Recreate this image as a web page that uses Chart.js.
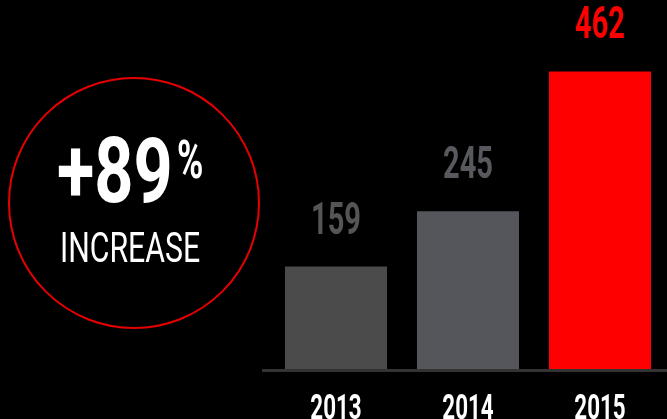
<!DOCTYPE html>
<html>
<head>
<meta charset="utf-8">
<script src="https://cdn.jsdelivr.net/npm/chart.js@4/dist/chart.umd.min.js"></script>
<style>
	html, body { margin: 0; padding: 0; background: #000; }
	#wrap { width: 667px; height: 419px; position: relative; }
</style>
</head>
<body>
<div id="wrap"><canvas id="chart"></canvas></div>
<script>
var years = ['2013', '2014', '2015'];
var members = [159, 245, 462];
var barColors = ['#4b4b4b', '#55565b', '#ff0000'];
var labelColors = ['#555555', '#58595e', '#ff0000'];
var growth = '+89';
var growthText = 'INCREASE';

// draw condensed text by squeezing the canvas horizontally
function narrowText(ctx, text, x, y, font, color, sx, align) {
	ctx.save();
	ctx.font = font;
	ctx.fillStyle = color;
	ctx.textBaseline = 'alphabetic';
	var w = ctx.measureText(text).width * sx;
	var left = x;
	if(align === 'center') left = x - w / 2;
	ctx.translate(left, y);
	ctx.scale(sx, 1);
	ctx.textAlign = 'left';
	ctx.fillText(text, 0, 0);
	ctx.restore();
}

var extras = {
	id: 'extras',
	afterDatasetsDraw: function(chart) {
		var ctx = chart.ctx;
		var xs = chart.scales.x;
		var meta = chart.getDatasetMeta(0);

		// baseline rule
		ctx.save();
		ctx.fillStyle = '#333333';
		ctx.fillRect(262, chart.chartArea.bottom, 405, 3);
		ctx.restore();

		for(var i=0; i<years.length; i++) {
			var bar = meta.data[i];
			narrowText(ctx, String(members[i]), bar.x, bar.y - 33,
				'bold 44px Roboto', labelColors[i], 0.66, 'center');
			narrowText(ctx, years[i], xs.getPixelForValue(i), 419,
				'bold 35px Roboto', '#ffffff', 0.64, 'center');
		}

		// growth badge
		ctx.save();
		ctx.strokeStyle = '#e60000';
		ctx.lineWidth = 2;
		ctx.beginPath();
		ctx.arc(134, 203, 125, 0, Math.PI * 2);
		ctx.stroke();
		ctx.restore();

		narrowText(ctx, growth, 57, 202, 'bold 90px Roboto', '#ffffff', 0.76, 'left');
		narrowText(ctx, '%', 177, 178, 'bold 54px Roboto', '#ffffff', 0.66, 'left');
		narrowText(ctx, growthText, 130, 262, '42px Roboto', '#ffffff', 0.72, 'center');
	}
};

new Chart(document.getElementById('chart'), {
	type: 'bar',
	data: {
		labels: years,
		datasets: [{
			data: members,
			backgroundColor: barColors,
			borderWidth: 0,
			categoryPercentage: 1,
			barPercentage: 0.773
		}]
	},
	options: {
		responsive: true,
		maintainAspectRatio: false,
		animation: false,
		layout: { padding: { left: 270, right: 1, top: 47, bottom: 50 } },
		plugins: { legend: { display: false }, tooltip: { enabled: false } },
		scales: {
			x: { display: false },
			y: { display: false, min: 0, max: 500 }
		}
	},
	plugins: [extras]
});
</script>
</body>
</html>
